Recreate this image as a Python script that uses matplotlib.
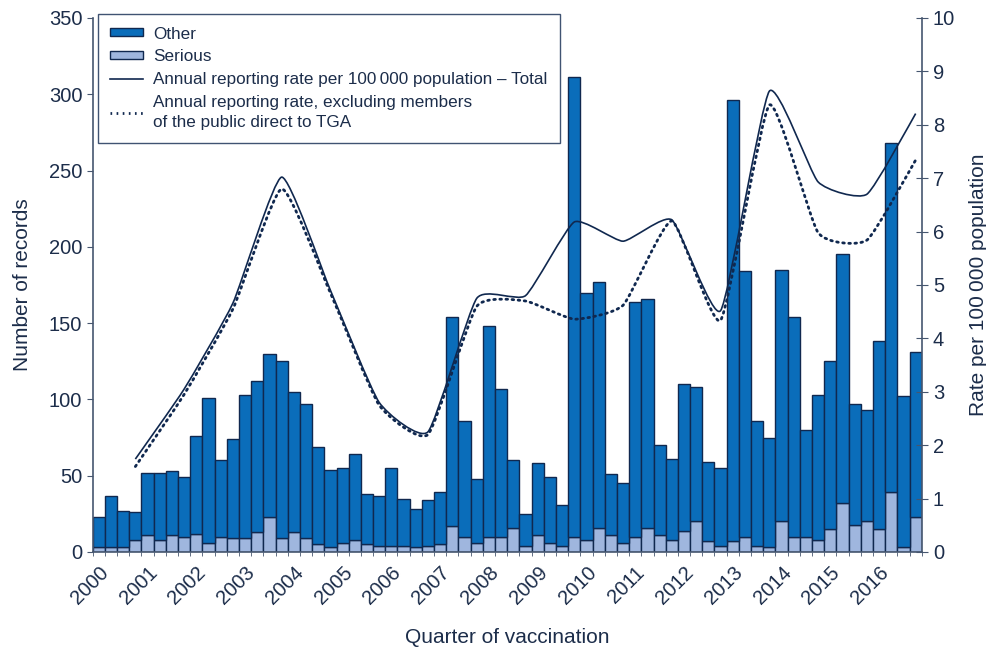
import numpy as np
import matplotlib
matplotlib.use('Agg')
import matplotlib.pyplot as plt
from matplotlib.path import Path
from matplotlib.patches import PathPatch, Patch
from matplotlib.lines import Line2D

plt.rcParams['font.family'] = ['Liberation Sans', 'DejaVu Sans']

# data (quarterly counts 2000 Q1 .. 2016 Q4)
years = list(range(2000, 2017))
serious = [3, 3, 3, 8, 11, 8, 11, 10, 12, 6, 10, 9, 9, 13, 23, 9,
           13, 9, 5, 3, 6, 8, 5, 4, 4, 4, 3, 4, 5, 17, 10, 6,
           10, 10, 16, 4, 11, 6, 4, 10, 8, 16, 11, 6, 10, 16, 11, 8,
           14, 20, 7, 4, 7, 10, 4, 3, 20, 10, 10, 8, 15, 32, 18, 20,
           15, 39, 3, 23]
other = [20, 34, 24, 18, 41, 44, 42, 39, 64, 95, 50, 65, 94, 99, 107, 116,
         92, 88, 64, 51, 49, 56, 33, 33, 51, 31, 25, 30, 34, 137, 76, 42,
         138, 97, 44, 21, 47, 43, 27, 301, 162, 161, 40, 39, 154, 150, 59, 53,
         96, 88, 52, 51, 289, 174, 82, 72, 165, 144, 70, 95, 110, 163, 79, 73,
         123, 229, 99, 108]
# annual reporting rates per 100 000 population
rate_total = [1.74, 3.05, 4.66, 7.02, 4.9, 2.8, 2.25, 4.75, 4.8, 6.18,
              5.82, 6.22, 4.52, 8.63, 6.93, 6.70, 8.21]
rate_excl = [1.6, 2.95, 4.55, 6.8, 4.85, 2.75, 2.2, 4.6, 4.7, 4.36,
             4.62, 6.2, 4.34, 8.37, 5.98, 5.84, 7.34]

TXT = '#1c2d4a'
SPINE = '#46566f'
EDGE = '#10284f'
C_OTHER = '#0a6dba'
C_SER = '#9fb6de'


def smooth_path(xs, ys, k=12.0):
    # light smoothing of the polyline with cubic Bezier segments
    p = np.column_stack([xs, ys]).astype(float)
    verts = [p[0]]
    codes = [Path.MOVETO]
    n = len(p)
    for i in range(n - 1):
        p0 = p[i - 1] if i > 0 else p[i]
        p3 = p[i + 2] if i + 2 < n else p[i + 1]
        c1 = p[i] + (p[i + 1] - p0) / k
        c2 = p[i + 1] - (p3 - p[i]) / k
        verts += [c1, c2, p[i + 1]]
        codes += [Path.CURVE4] * 3
    return Path(verts, codes)


fig = plt.figure(figsize=(9.87, 6.52), dpi=100)
ax = fig.add_axes([0.0939, 0.1534, 0.84, 0.819])

x = np.arange(len(serious))
ax.bar(x, serious, width=1.0, color=C_SER, edgecolor=EDGE, linewidth=1.0)
ax.bar(x, other, bottom=serious, width=1.0, color=C_OTHER, edgecolor=EDGE, linewidth=1.0)

ax.set_xlim(-0.5, len(x) - 0.5)
ax.set_ylim(0, 350)
ax.set_yticks(range(0, 351, 50))
ax.set_xticks(np.arange(-0.5, len(x), 1.0), minor=True)
ax.set_xticks(np.arange(0, len(x), 4))
ax.set_xticklabels([str(y) for y in years], rotation=45, ha='right',
                   rotation_mode='anchor', fontsize=14.5, color=TXT)
ax.tick_params(axis='x', which='major', length=0, pad=8)
ax.tick_params(axis='x', which='minor', length=3, color=SPINE, direction='out')
ax.tick_params(axis='y', length=4.5, color=SPINE, labelsize=14.5, labelcolor=TXT, pad=3)
ax.spines['top'].set_visible(False)
ax.spines['right'].set_visible(False)
for s in ['left', 'bottom']:
    ax.spines[s].set_color(SPINE)
    ax.spines[s].set_linewidth(1.2)
ax.set_xlabel('Quarter of vaccination', fontsize=15, color=TXT, labelpad=14)
ax.set_ylabel('Number of records', fontsize=15, color=TXT, labelpad=12)

ax2 = ax.twinx()
ax2.set_ylim(0, 10)
ax2.set_yticks(range(0, 11))
ax2.tick_params(axis='y', direction='inout', length=8, color=SPINE,
                labelsize=14.5, labelcolor=TXT, pad=4)
for s in ['top', 'left', 'bottom']:
    ax2.spines[s].set_visible(False)
ax2.spines['right'].set_color(SPINE)
ax2.spines['right'].set_linewidth(1.2)
ax2.set_ylabel('Rate per 100\u2009000 population', fontsize=15, color=TXT, labelpad=10)

qx = np.arange(3, len(x), 4)
ax2.add_patch(PathPatch(smooth_path(qx, rate_total), fill=False,
                        edgecolor=EDGE, linewidth=1.2))
ax2.add_patch(PathPatch(smooth_path(qx, rate_excl), fill=False,
                        edgecolor=EDGE, linewidth=2.0, linestyle=(0, (0.6, 1.6)),
                        capstyle='round'))

handles = [Patch(facecolor=C_OTHER, edgecolor=EDGE, linewidth=1.0),
           Patch(facecolor=C_SER, edgecolor=EDGE, linewidth=1.0),
           Line2D([], [], color=EDGE, linewidth=1.2),
           Line2D([], [], color=EDGE, linewidth=2.0, linestyle=(0, (0.6, 1.6)))]
labels = ['Other', 'Serious',
          'Annual reporting rate per 100\u2009000 population \u2013 Total',
          'Annual reporting rate, excluding members\nof the public direct to TGA']
leg = ax2.legend(handles, labels, loc='upper left', bbox_to_anchor=(0.006, 1.008),
                 fontsize=12.3, frameon=True, fancybox=False, handlelength=1.9,
                 handleheight=0.35, handletextpad=0.6, labelspacing=0.45,
                 borderpad=0.75, borderaxespad=0)
leg.get_frame().set_edgecolor(EDGE)
leg.get_frame().set_linewidth(1.0)
for t in leg.get_texts():
    t.set_color(TXT)
    t.set_linespacing(1.45)

fig.savefig('out.png', dpi=100)
